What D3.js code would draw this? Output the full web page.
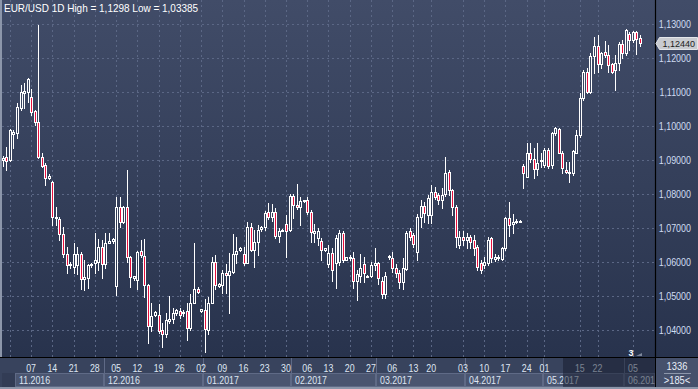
<!DOCTYPE html>
<html><head><meta charset="utf-8">
<script src="https://cdn.jsdelivr.net/npm/d3@7"></script>
<style>html,body{margin:0;padding:0;background:#2e3852;overflow:hidden}svg{display:block}</style>
</head><body>
<svg id="c" width="698" height="389"></svg>
<script>
// ---------- data (daily EUR/USD candles, left to right) ----------
const opens = [
1.0900,1.0910,1.0900,1.0977,1.0978,1.1054,1.1097,1.1101,1.1084,1.1045,
1.1013,1.0908,1.0885,1.0848,1.0836,1.0728,1.0726,1.0682,1.0624,1.0590,
1.0584,1.0590,1.0624,1.0551,1.0552,1.0590,1.0598,1.0601,1.0643,1.0594,
1.0657,1.0662,1.0529,1.0763,1.0719,1.0763,1.0616,1.0554,1.0547,1.0632,
1.0618,1.0532,1.0412,1.0444,1.0444,1.0400,1.0388,1.0426,1.0432,1.0450,
1.0457,1.0452,1.0457,1.0405,1.0480,1.0522,1.0457,1.0459,1.0400,1.0480,
1.0601,1.0530,1.0532,1.0567,1.0562,1.0571,1.0624,1.0636,1.0623,1.0596,
1.0702,1.0635,1.0660,1.0696,1.0702,1.0748,1.0733,1.0748,1.0676,1.0692,
1.0711,1.0694,1.0794,1.0768,1.0762,1.0779,1.0782,1.0748,1.0685,1.0670,
1.0662,1.0636,1.0593,1.0627,1.0596,1.0600,1.0684,1.0607,1.0616,1.0611,
1.0544,1.0559,1.0593,1.0558,1.0559,1.0591,1.0596,1.0544,1.0506,1.0614,
1.0611,1.0581,1.0567,1.0542,1.0578,1.0690,1.0679,1.0630,
1.0733,1.0765,1.0738,1.0738,1.0807,1.0797,1.0782,1.0800,1.0866,1.0812,
1.0763,1.0650,1.0673,1.0665,1.0673,1.0665,1.0643,1.0596,1.0591,1.0596,
1.0670,1.0608,1.0611,1.0608,1.0640,1.0729,1.0712,1.0719,1.0722,
1.0882,1.0851,1.0922,1.0902,1.0875,1.0897,1.0885,1.0929,1.0885,1.0978,
1.0990,1.0922,1.0871,1.0866,1.0861,1.0922,1.0974,1.1081,1.1160,1.1101,
1.1206,1.1235,1.1182,1.1219,1.1209,1.1182,1.1165,1.1186,1.1241,1.1214,
1.1271,1.1253,1.1275,1.1258];
const highs = [
1.0912,1.0939,1.0991,1.0988,1.1067,1.1121,1.1125,1.1140,1.1108,1.1047,
1.1297,1.0921,1.0890,1.0860,1.0839,1.0763,1.0733,1.0704,1.0643,1.0600,
1.0657,1.0643,1.0630,1.0606,1.0594,1.0596,1.0686,1.0667,1.0665,1.0686,
1.0686,1.0670,1.0792,1.0792,1.0766,1.0871,1.0617,1.0560,1.0633,1.0665,
1.0667,1.0535,1.0478,1.0455,1.0476,1.0420,1.0449,1.0500,1.0465,1.0461,
1.0466,1.0460,1.0478,1.0505,1.0657,1.0527,1.0463,1.0490,1.0498,1.0614,
1.0620,1.0538,1.0576,1.0594,1.0626,1.0682,1.0673,1.0645,1.0645,1.0719,
1.0716,1.0694,1.0709,1.0705,1.0750,1.0773,1.0770,1.0760,1.0700,1.0697,
1.0738,1.0800,1.0800,1.0829,1.0792,1.0783,1.0790,1.0753,1.0712,1.0700,
1.0670,1.0642,1.0650,1.0640,1.0679,1.0694,1.0690,1.0616,1.0622,1.0630,
1.0576,1.0625,1.0614,1.0562,1.0600,1.0640,1.0600,1.0557,1.0570,1.0620,
1.0630,1.0595,1.0575,1.0612,1.0690,1.0700,1.0685,1.0740,
1.0782,1.0777,1.0797,1.0826,1.0821,1.0802,1.0817,1.0908,1.0871,1.0815,
1.0768,1.0690,1.0690,1.0685,1.0680,1.0680,1.0650,1.0606,1.0616,1.0673,
1.0673,1.0625,1.0620,1.0645,1.0733,1.0777,1.0740,1.0725,1.0723,
1.0888,1.0949,1.0949,1.0934,1.0949,1.0920,1.0934,1.0934,1.0983,1.0998,
1.0993,1.0925,1.0895,1.0895,1.0929,1.0988,1.1096,1.1165,1.1170,1.1214,
1.1263,1.1268,1.1219,1.1251,1.1238,1.1186,1.1209,1.1248,1.1253,1.1284,
1.1277,1.1280,1.1280,1.1268];
const lows = [
1.0882,1.0871,1.0897,1.0936,1.0964,1.1047,1.1052,1.1071,1.1032,1.1003,
1.0905,1.0880,1.0826,1.0843,1.0709,1.0709,1.0665,1.0615,1.0567,1.0582,
1.0567,1.0565,1.0520,1.0518,1.0523,1.0586,1.0567,1.0576,1.0552,1.0581,
1.0655,1.0655,1.0503,1.0704,1.0714,1.0600,1.0527,1.0548,1.0520,1.0616,
1.0498,1.0363,1.0398,1.0440,1.0390,1.0351,1.0380,1.0420,1.0420,1.0444,
1.0436,1.0442,1.0371,1.0400,1.0478,1.0510,1.0452,1.0336,1.0388,1.0478,
1.0520,1.0527,1.0508,1.0508,1.0451,1.0568,1.0596,1.0632,1.0590,1.0596,
1.0633,1.0586,1.0621,1.0690,1.0694,1.0725,1.0720,1.0670,1.0660,1.0690,
1.0616,1.0690,1.0729,1.0755,1.0709,1.0777,1.0740,1.0660,1.0660,1.0650,
1.0606,1.0633,1.0585,1.0545,1.0523,1.0590,1.0600,1.0605,1.0605,1.0523,
1.0488,1.0540,1.0542,1.0556,1.0555,1.0575,1.0535,1.0493,1.0495,1.0610,
1.0570,1.0555,1.0525,1.0520,1.0575,1.0665,1.0645,1.0606,
1.0704,1.0719,1.0716,1.0716,1.0785,1.0771,1.0758,1.0795,1.0797,1.0738,
1.0645,1.0640,1.0650,1.0640,1.0640,1.0620,1.0576,1.0567,1.0581,1.0591,
1.0601,1.0604,1.0606,1.0606,1.0636,1.0677,1.0685,1.0715,1.0721,
1.0819,1.0849,1.0895,1.0846,1.0856,1.0880,1.0880,1.0876,1.0876,1.0974,
1.0920,1.0861,1.0861,1.0836,1.0856,1.0920,1.0969,1.1076,1.1096,1.1096,
1.1157,1.1160,1.1170,1.1204,1.1160,1.1155,1.1106,1.1165,1.1199,1.1209,
1.1224,1.1248,1.1211,1.1236];
const closes = [
1.0905,1.0898,1.0988,1.0983,1.1057,1.1099,1.1103,1.1138,1.1042,1.1011,
1.0910,1.0882,1.0846,1.0852,1.0733,1.0733,1.0682,1.0624,1.0591,1.0594,
1.0624,1.0624,1.0549,1.0557,1.0591,1.0593,1.0606,1.0643,1.0594,1.0657,
1.0663,1.0667,1.0763,1.0719,1.0763,1.0616,1.0557,1.0558,1.0630,1.0621,
1.0532,1.0412,1.0441,1.0452,1.0398,1.0388,1.0429,1.0431,1.0449,1.0458,
1.0445,1.0454,1.0405,1.0480,1.0522,1.0513,1.0461,1.0402,1.0480,1.0601,
1.0532,1.0535,1.0567,1.0562,1.0573,1.0624,1.0633,1.0642,1.0596,1.0702,
1.0635,1.0660,1.0694,1.0702,1.0743,1.0733,1.0748,1.0676,1.0690,1.0694,
1.0691,1.0794,1.0768,1.0762,1.0779,1.0781,1.0748,1.0689,1.0692,1.0690,
1.0635,1.0640,1.0627,1.0576,1.0670,1.0684,1.0606,1.0614,1.0611,1.0544,
1.0564,1.0581,1.0567,1.0559,1.0591,1.0596,1.0552,1.0506,1.0560,1.0618,
1.0581,1.0567,1.0542,1.0581,1.0684,1.0675,1.0653,1.0733,
1.0765,1.0743,1.0787,1.0807,1.0792,1.0782,1.0797,1.0861,1.0812,1.0763,
1.0673,1.0673,1.0665,1.0673,1.0660,1.0640,1.0586,1.0576,1.0601,1.0665,
1.0611,1.0614,1.0614,1.0640,1.0729,1.0709,1.0719,1.0721,1.0722,
1.0863,1.0922,1.0902,1.0875,1.0892,1.0900,1.0929,1.0882,1.0978,1.0995,
1.0922,1.0876,1.0866,1.0861,1.0927,1.0974,1.1081,1.1160,1.1101,1.1206,
1.1235,1.1182,1.1216,1.1209,1.1179,1.1160,1.1186,1.1241,1.1214,1.1282,
1.1253,1.1275,1.1256,1.1244];

const priceTicks = [1.04,1.05,1.06,1.07,1.08,1.09,1.10,1.11,1.12,1.13];
const dayTickLabels = ['07','14','21','28','05','12','19','26','02','09','16','23','30','06','13','20','27','06','13','20','03','10','17','24','01','15','22','05'];
const dayTickBars   = [8,14,20,26,32,38,44,50,56,62,68,74,80,86,92,98,104,110,116,121,130,136,142,148,153,163,168,178];
const extraGridBars = [2];
const monthLabels    = ['11.2016','12.2016','01.2017','02.2017','03.2017','04.2017','05.2017','06.201'];
const monthStartBars = [4,29,57,82,106,131,153,176];
const titleText = 'EUR/USD 1D High = 1,1298 Low = 1,03385';
const lastPrice = 1.1244;
const barCountText = '1336';
const visibleText = '>185<';
const markerText = '3';

// ---------- layout ----------
const W = 698, H = 389;
const plotRight = 655, axisTop = 357;
const svg = d3.select('#c');
const FONT = "'Liberation Sans',Arial,sans-serif";

const x = d3.scaleLinear().domain([0, 180]).range([2.8, 640]);
const y = d3.scaleLinear().domain([1.04, 1.13]).range([330, 24]);
const fmt = v => d3.format('.5f')(v).replace('.', ',');

// narrow the glyphs (reference uses a condensed UI font)
function squeeze(sel, f) {
  sel.each(function() {
    const w = this.getComputedTextLength();
    d3.select(this).attr('textLength', w * f).attr('lengthAdjust', 'spacingAndGlyphs');
  });
  return sel;
}

const defs = svg.append('defs');
const g1 = defs.append('linearGradient').attr('id','bg').attr('gradientUnits','userSpaceOnUse')
  .attr('x1',0).attr('y1',0).attr('x2',0).attr('y2',axisTop);
g1.append('stop').attr('offset','0%').attr('stop-color','#414c68');
g1.append('stop').attr('offset','100%').attr('stop-color','#28334d');
defs.append('clipPath').attr('id','plotclip').append('rect')
  .attr('x',2).attr('y',0).attr('width',plotRight-2).attr('height',axisTop);

// background
svg.append('rect').attr('x',0).attr('y',0).attr('width',W).attr('height',axisTop).attr('fill','url(#bg)');

// grid
const grid = svg.append('g').attr('clip-path','url(#plotclip)');
grid.selectAll('line.h').data(priceTicks).join('line')
  .attr('x1',2).attr('x2',plotRight)
  .attr('y1',d=>Math.round(y(d))+0.5).attr('y2',d=>Math.round(y(d))+0.5)
  .attr('stroke','#5b6785').attr('stroke-dasharray','2,3');
grid.selectAll('line.v').data(dayTickBars.concat(extraGridBars)).join('line')
  .attr('y1',0).attr('y2',axisTop)
  .attr('x1',d=>Math.round(x(d))+0.5).attr('x2',d=>Math.round(x(d))+0.5)
  .attr('stroke','#5b6785').attr('stroke-dasharray','2,3');

// candles
const candles = d3.range(opens.length).map(i => ({i, o:opens[i], h:highs[i], l:lows[i], c:closes[i]}));
const cg = svg.append('g').attr('clip-path','url(#plotclip)');
const cand = cg.selectAll('g').data(candles).join('g');
cand.append('line')
  .attr('x1',d=>Math.round(x(d.i))+0.5).attr('x2',d=>Math.round(x(d.i))+0.5)
  .attr('y1',d=>Math.round(y(d.h))).attr('y2',d=>Math.round(y(d.l))+1)
  .attr('stroke','#ffffff').attr('stroke-width',1);
cand.append('rect')
  .attr('x',d=>Math.round(x(d.i))-0.5)
  .attr('y',d=>Math.round(y(Math.max(d.o,d.c)))+0.5)
  .attr('width',2)
  .attr('height',d=>Math.max(1, Math.round(y(Math.min(d.o,d.c))) - Math.round(y(Math.max(d.o,d.c)))))
  .attr('fill',d=> d.c < d.o ? '#e8103e' : 'url(#bg)')
  .attr('stroke','#ffffff').attr('stroke-width',1);

// title
squeeze(svg.append('text').attr('x',4).attr('y',11.5).text(titleText)
  .attr('fill','#ffffff').attr('font-family',FONT).attr('font-size',10.5), 0.95);

// left border
svg.append('rect').attr('x',0).attr('y',0).attr('width',2).attr('height',H).attr('fill','#8c96aa');

// right axis
svg.append('line').attr('x1',plotRight+0.5).attr('x2',plotRight+0.5).attr('y1',0).attr('y2',axisTop)
  .attr('stroke','#000').attr('stroke-width',1.2);
squeeze(svg.append('g').selectAll('text').data(priceTicks).join('text')
  .attr('x',691).attr('y',d=>y(d)+4).attr('text-anchor','end')
  .attr('fill','#cfdcf2').attr('font-family',FONT).attr('font-size',11)
  .text(d=>fmt(d)), 0.81);

// last price tag
const ly = Math.round(y(lastPrice));
svg.append('path')
  .attr('d',`M656,${ly+0.5} L659.5,${ly-5.5} L697.5,${ly-5.5} L697.5,${ly+6.5} L659.5,${ly+6.5} Z`)
  .attr('fill','#c9cbd0').attr('stroke','#e4e6ea').attr('stroke-width',1);
svg.append('text').attr('x',695).attr('y',ly+3.5).attr('text-anchor','end')
  .attr('fill','#1c1c1c').attr('font-family',FONT).attr('font-size',9).text(fmt(lastPrice));

// bottom axis
const ax = svg.append('g');
ax.append('rect').attr('x',0).attr('y',axisTop).attr('width',W).attr('height',H-axisTop).attr('fill','#38435d');
ax.append('rect').attr('x',2).attr('y',373).attr('width',plotRight-2).attr('height',14).attr('fill','#323c55');
const mStarts = monthStartBars.map(b => Math.round(x(b-0.5)));
const mEnds = mStarts.slice(1).concat([plotRight]);
ax.selectAll('rect.m').data(monthLabels).join('rect')
  .attr('x',(d,i)=>mStarts[i]+0.5).attr('y',373.5)
  .attr('width',(d,i)=>mEnds[i]-mStarts[i]-1).attr('height',13)
  .attr('fill','#4a5570').attr('stroke','#5f6a86');
ax.selectAll('line.sep').data(monthLabels.slice(1)).join('line')
  .attr('x1',(d,i)=>mStarts[i+1]+0.5).attr('x2',(d,i)=>mStarts[i+1]+0.5)
  .attr('y1',axisTop+1).attr('y2',387).attr('stroke','#5f6a86');
squeeze(ax.selectAll('text.m').data(monthLabels).join('text')
  .attr('x',(d,i)=>mStarts[i]+4).attr('y',384)
  .attr('fill','#dfe6f2').attr('font-family',FONT).attr('font-size',11).text(d=>d), 0.8);
squeeze(ax.selectAll('text.d').data(dayTickLabels).join('text')
  .attr('x',(d,i)=>x(dayTickBars[i])).attr('y',372).attr('text-anchor','middle')
  .attr('fill','#dfe6f2').attr('font-family',FONT).attr('font-size',11).text(d=>d), 0.8);
// dimmed overlay region
ax.append('rect').attr('x',563).attr('y',axisTop+1).attr('width',plotRight-563).attr('height',29)
  .attr('fill','#141a2c').attr('opacity',0.5);
ax.append('line').attr('x1',0).attr('x2',W).attr('y1',axisTop+0.5).attr('y2',axisTop+0.5).attr('stroke','#000');
ax.append('line').attr('x1',plotRight+0.5).attr('x2',plotRight+0.5).attr('y1',axisTop).attr('y2',H).attr('stroke','#000');
// corner box
ax.append('rect').attr('x',plotRight+1).attr('y',axisTop+1).attr('width',W-plotRight-1).attr('height',H-axisTop-1).attr('fill','#46516c');
squeeze(ax.append('text').attr('x',677).attr('y',370).attr('text-anchor','middle')
  .attr('fill','#e8eef8').attr('font-family',FONT).attr('font-size',11).text(barCountText), 0.85);
ax.append('line').attr('x1',664).attr('x2',691).attr('y1',373.5).attr('y2',373.5).attr('stroke','#8d97ab');
squeeze(ax.append('text').attr('x',677).attr('y',384).attr('text-anchor','middle')
  .attr('fill','#e8eef8').attr('font-family',FONT).attr('font-size',11).text(visibleText), 0.85);
// bottom border
ax.append('rect').attr('x',0).attr('y',H-2).attr('width',W).attr('height',2).attr('fill','#8c96aa');

// scroll marker
svg.append('text').attr('x',631).attr('y',356).attr('text-anchor','middle')
  .attr('fill','#ffffff').attr('font-weight','bold').attr('font-family',FONT).attr('font-size',9).text(markerText);
svg.append('path').attr('d','M636,356 L642,353 L642,356 Z').attr('fill','#7d879b');
</script>
</body></html>
